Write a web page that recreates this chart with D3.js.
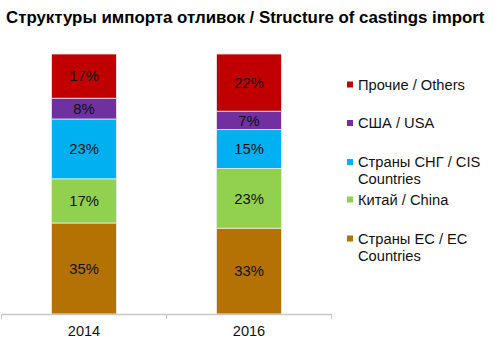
<!DOCTYPE html>
<html><head><meta charset="utf-8">
<script src="https://cdn.jsdelivr.net/npm/d3@7"></script>
<style>body{margin:0;background:#fff}svg{display:block}text{font-family:"Liberation Sans",Arial,sans-serif}</style>
</head><body><svg id="c" width="500" height="348"></svg>
<script>
const years = ["2014", "2016"];
const seriesNames = ["Страны ЕС / EC Countries", "Китай / China", "Страны СНГ / CIS Countries", "США / USA", "Прочие / Others"];
const seriesKeys = ["eu", "china", "cis", "usa", "others"];
const eu = [35, 33];
const china = [17, 23];
const cis = [23, 15];
const usa = [8, 7];
const others = [17, 22];
const colors = ["#B47104", "#92D050", "#00B0F0", "#7030A0", "#C00000"];
const legendLines = {
  others: ["Прочие / Others"],
  usa: ["США / USA"],
  cis: ["Страны СНГ / CIS", "Countries"],
  china: ["Китай / China"],
  eu: ["Страны ЕС / EC", "Countries"]
};
const legendY = { others: 84.5, usa: 123, cis: 162, china: 199.5, eu: 238.5 };

const svg = d3.select("#c");
const rows = years.map((y, i) => ({ year: y, eu: eu[i], china: china[i], cis: cis[i], usa: usa[i], others: others[i] }));
const stack = d3.stack().keys(seriesKeys)(rows);

const x = d3.scaleBand().domain(years).range([1.5, 331.5]).paddingInner(0.606).paddingOuter(0.303);
const y = d3.scaleLinear().domain([0, 100]).range([314, 54]);
const color = d3.scaleOrdinal().domain(seriesKeys).range(colors);

svg.append("text").attr("x", 6).attr("y", 23).attr("font-size", 16.85).attr("font-weight", "bold")
  .attr("fill", "#000").text("Структуры импорта отливок / Structure of castings import");

const g = svg.append("g");
stack.forEach(s => {
  const gg = g.append("g").attr("fill", color(s.key));
  gg.selectAll("rect").data(s).join("rect")
    .attr("x", d => x(d.data.year)).attr("width", x.bandwidth())
    .attr("y", d => y(d[1])).attr("height", d => y(d[0]) - y(d[1]))
    .attr("stroke", "#ececec").attr("stroke-width", 0.8);
  gg.selectAll("text").data(s).join("text")
    .attr("x", d => x(d.data.year) + x.bandwidth() / 2)
    .attr("y", d => (y(d[0]) + y(d[1])) / 2)
    .attr("dy", "0.36em").attr("text-anchor", "middle").attr("font-size", 14.8)
    .attr("fill", "#111").text(d => (d[1] - d[0]) + "%");
});

// axis
const axis = d3.axisBottom(x).tickSize(0).tickPadding(12);
const ag = svg.append("g").attr("transform", "translate(0,314)").call(axis);
ag.select(".domain").attr("stroke", "#c8c8c8").attr("stroke-width", 1.5);
ag.selectAll(".tick text").attr("font-size", 14.6).attr("fill", "#111").attr("font-family", "Liberation Sans, Arial, sans-serif");
const bounds = [x.range()[0], x(years[1]) - x.step() * x.paddingInner() / 2, x.range()[1]];
ag.selectAll(".sep").data(bounds).join("line").attr("class", "sep")
  .attr("x1", d => d).attr("x2", d => d).attr("y1", 0).attr("y2", 5)
  .attr("stroke", "#c8c8c8").attr("stroke-width", 1);

// legend
const lg = svg.append("g");
seriesKeys.slice().reverse().forEach(k => {
  const cy = legendY[k];
  lg.append("rect").attr("x", 347).attr("y", cy - 3).attr("width", 6).attr("height", 6).attr("fill", color(k));
  legendLines[k].forEach((line, j) => {
    lg.append("text").attr("x", 358).attr("y", cy + j * 16.8).attr("dy", "0.36em")
      .attr("font-size", 14.7).attr("fill", "#111").text(line);
  });
});
</script></body></html>
